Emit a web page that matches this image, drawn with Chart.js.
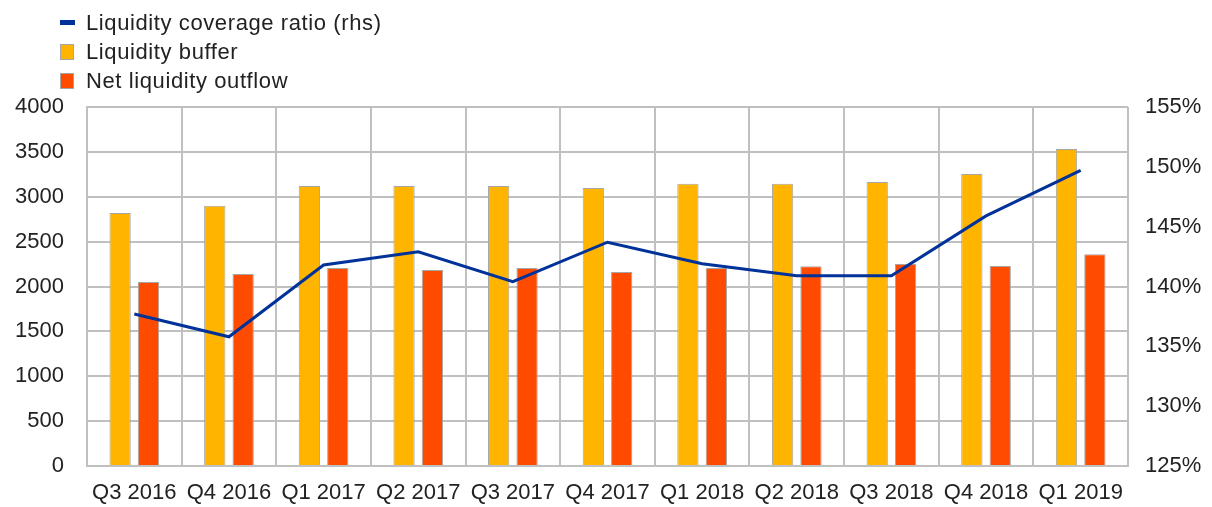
<!DOCTYPE html>
<html>
<head>
<meta charset="utf-8">
<script src="https://cdn.jsdelivr.net/npm/chart.js@4"></script>
<style>
body{margin:0;background:#fff;font-family:"Liberation Sans",Arial,sans-serif;}
#wrap{position:relative;width:1212px;height:507px;}
#legend{position:absolute;left:60px;top:8px;font-size:22px;color:#222;letter-spacing:0.6px;}
#legend div{height:29px;display:flex;align-items:center;}
#legend span.box{display:inline-block;width:14px;height:16px;margin-right:12px;box-sizing:border-box;border:1px solid #a6a6a6;}
#legend span.dash{display:inline-block;width:15px;height:5px;margin-right:11px;}
</style>
</head>
<body>
<div id="wrap">
<canvas id="chart" width="1212" height="507"></canvas>
<div id="legend"></div>
</div>
<script>

const quarters = ["Q3 2016","Q4 2016","Q1 2017","Q2 2017","Q3 2017","Q4 2017","Q1 2018","Q2 2018","Q3 2018","Q4 2018","Q1 2019"];

const liquidityBuffer = [2818,2901,3119,3119,3119,3097,3146,3146,3164,3253,3531];
const netOutflow = [2050,2139,2206,2184,2206,2161,2206,2225,2251,2228,2359];
const coverageRatio = [137.7,135.8,141.8,142.9,140.4,143.7,141.9,140.9,140.9,145.9,149.7];

const leftTicks = [0,500,1000,1500,2000,2500,3000,3500,4000];
const rightTicks = [125,130,135,140,145,150,155];

const tickFont = {family:"Liberation Sans", size:22};
const gridColor = "#c0c0c0";

const ctx = document.getElementById("chart");

const chart = new Chart(ctx,{
type:"bar",
data:{
labels:quarters,
datasets:[
{
type:"line",
label:"Liquidity coverage ratio (rhs)",
data:coverageRatio,
yAxisID:"y2",
borderColor:"#003299",
backgroundColor:"#003299",
borderWidth:3,
pointRadius:0,
tension:0,
order:0
},
{
label:"Liquidity buffer",
data:liquidityBuffer,
backgroundColor:"#FFB400",
borderColor:"#a6a6a6",
borderWidth:1,
categoryPercentage:0.6,
barPercentage:0.75,
order:1
},
{
label:"Net liquidity outflow",
data:netOutflow,
backgroundColor:"#FF4B00",
borderColor:"#a6a6a6",
borderWidth:1,
categoryPercentage:0.6,
barPercentage:0.75,
order:1
}
]
},
options:{
responsive:false,
animation:false,
layout:{padding:{top:107,left:0,right:0,bottom:0}},
plugins:{
legend:{display:false},
tooltip:{enabled:false}
},
scales:{
x:{
grid:{color:gridColor,lineWidth:2,offset:true,drawTicks:false},
border:{color:gridColor,width:2},
ticks:{color:"#222",font:tickFont,padding:14,maxRotation:0,autoSkip:false},
afterFit:function(s){s.height=41;}
},
y:{
position:"left",
min:0,
max:4000,
afterBuildTicks:function(s){s.ticks=leftTicks.map(v=>({value:v}));},
grid:{color:gridColor,lineWidth:2,drawTicks:false},
border:{color:gridColor,width:2},
ticks:{color:"#222",font:tickFont,padding:23,callback:function(v){return String(v);}},
afterFit:function(s){s.width=87;}
},
y2:{
position:"right",
min:125,
max:155,
afterBuildTicks:function(s){s.ticks=rightTicks.map(v=>({value:v}));},
grid:{display:false,drawTicks:false},
border:{display:false},
ticks:{color:"#222",font:tickFont,padding:17,callback:function(v){return v+"%";}},
afterFit:function(s){s.width=84;}
}
}
}
});

// legend stacked one item per row, like the original
const legend = document.getElementById("legend");
chart.data.datasets.forEach(function(ds){
const row = document.createElement("div");
const mark = document.createElement("span");
if(ds.type==="line"){
mark.className="dash";
mark.style.background=ds.borderColor;
}else{
mark.className="box";
mark.style.background=ds.backgroundColor;
}
row.appendChild(mark);
row.appendChild(document.createTextNode(ds.label));
legend.appendChild(row);
});

</script>
</body>
</html>
